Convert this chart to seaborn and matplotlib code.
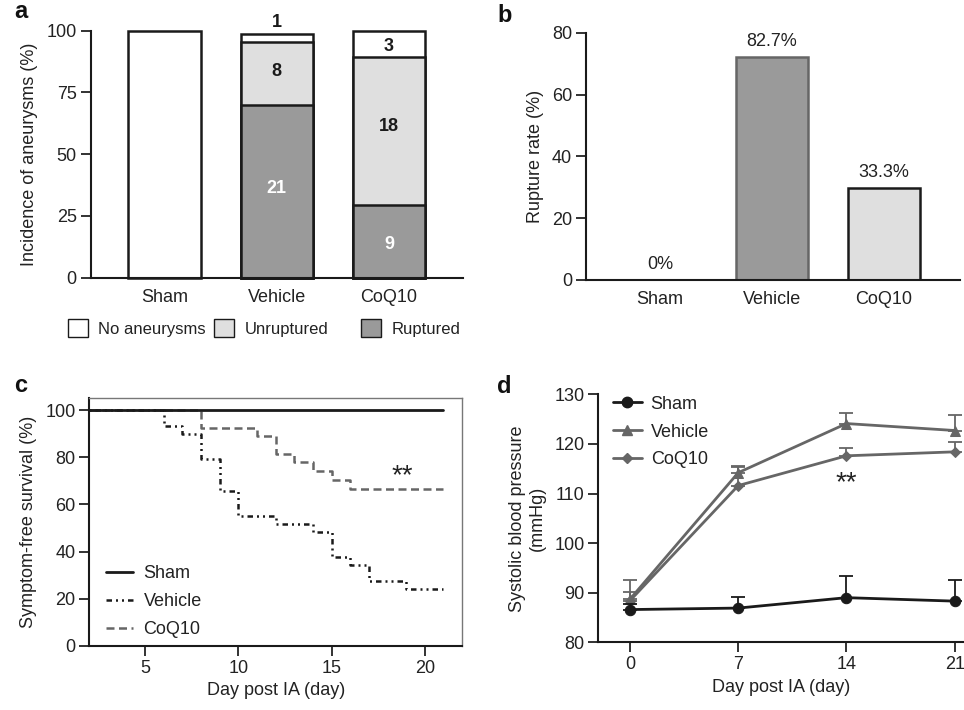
import numpy as np
import pandas as pd
import matplotlib
matplotlib.use("Agg")
import matplotlib.pyplot as plt
from matplotlib.patches import Patch
from matplotlib.lines import Line2D
import seaborn as sns

sns.set_style("ticks")
plt.rcParams['font.family'] = ['Liberation Sans', 'DejaVu Sans']
plt.rcParams['font.size'] = 13
plt.rcParams['text.color'] = '#222222'
plt.rcParams['axes.labelcolor'] = '#222222'
plt.rcParams['xtick.color'] = '#222222'
plt.rcParams['ytick.color'] = '#222222'

# ---------------- data ----------------
groups = ["Sham", "Vehicle", "CoQ10"]
# panel a: stacked percentages
ruptured_pct = [0, 70.0, 29.5]
unruptured_pct = [0, 25.5, 60.0]
none_pct = [100, 3.0, 10.5]
ruptured_n = [None, "21", "9"]
unruptured_n = [None, "8", "18"]
none_n = [None, "1", "3"]

# panel b
rupture_rate = [0, 72.3, 29.7]
rupture_labels = ["0%", "82.7%", "33.3%"]

# panel c: Kaplan-Meier steps
veh_days = [0, 6, 7, 8, 9, 10, 12, 14, 15, 16, 17, 19, 21]
veh_surv = [100, 93.1, 89.7, 79.3, 65.5, 55.2, 51.7, 48.3, 37.9, 34.5, 27.6, 24.1, 24.1]
coq_days = [0, 8, 11, 12, 13, 14, 15, 16, 21]
coq_surv = [100, 92.6, 88.9, 81.5, 77.8, 74.1, 70.4, 66.7, 66.7]
sham_days = [0, 21]
sham_surv = [100, 100]

# panel d: systolic BP
bp_days = [0, 7, 14, 21]
sham_bp = [86.6, 86.9, 89.0, 88.3]
sham_err = [1.2, 2.2, 4.4, 4.3]
veh_bp = [88.7, 114.2, 124.1, 122.7]
veh_err = [3.9, 1.4, 2.1, 3.2]
coq_bp = [88.4, 111.6, 117.6, 118.4]
coq_err = [1.8, 3.8, 1.5, 1.9]

C_RUP = "#9a9a9a"
C_UNR = "#dfdfdf"
C_NONE = "#ffffff"
C_DARK = "#1a1a1a"
C_GRAY = "#666666"

fig = plt.figure(figsize=(9.64, 7.10), dpi=100)

def px_rect(l, r, t, b):
    W, H = 964, 710
    return [l / W, (H - b) / H, (r - l) / W, (b - t) / H]

ax_a = fig.add_axes(px_rect(90.7, 463, 30.7, 277.7))
ax_b = fig.add_axes(px_rect(586, 960, 32.7, 280))
ax_c = fig.add_axes(px_rect(89.3, 462, 398.3, 646))
ax_d = fig.add_axes(px_rect(598.3, 964, 394.3, 642.3))

def style_axis(ax):
    for s in ["left", "bottom"]:
        ax.spines[s].set_linewidth(1.5)
        ax.spines[s].set_color(C_DARK)
    ax.tick_params(axis="both", direction="out", length=7, width=1.3,
                   labelsize=13, pad=3)

# ---------------- panel a ----------------
df_a = pd.DataFrame({
    "group": groups,
    "total": [r + u + n for r, u, n in zip(ruptured_pct, unruptured_pct, none_pct)],
    "rup_unr": [r + u for r, u in zip(ruptured_pct, unruptured_pct)],
    "rup": ruptured_pct,
})
bar_kw = dict(width=0.645, edgecolor=C_DARK, linewidth=1.8, ax=ax_a, clip_on=False)
sns.barplot(data=df_a, x="group", y="total", color=C_NONE, saturation=1, **bar_kw)
sns.barplot(data=df_a, x="group", y="rup_unr", color=C_UNR, saturation=1, **bar_kw)
sns.barplot(data=df_a, x="group", y="rup", color=C_RUP, saturation=1, **bar_kw)
for p in ax_a.patches:
    if p.get_height() == 0:
        p.set_visible(False)
rup_dy = [0, 1.2, -1.25]
unr_dy = [0, 0.7, 1.6]
for i in range(3):
    r, u, n = ruptured_pct[i], unruptured_pct[i], none_pct[i]
    if ruptured_n[i]:
        ax_a.text(i, r / 2 + rup_dy[i], ruptured_n[i], ha="center", va="center",
                  color="white", fontweight="bold", fontsize=13)
    if unruptured_n[i]:
        ax_a.text(i, r + u / 2 + unr_dy[i], unruptured_n[i], ha="center", va="center",
                  color=C_DARK, fontweight="bold", fontsize=13)
    if none_n[i]:
        y = r + u + n + 5 if n < 5 else r + u + n / 2 - 1.2
        ax_a.text(i, y, none_n[i], ha="center", va="center",
                  color=C_DARK, fontweight="bold", fontsize=13, clip_on=False)
ax_a.set_ylim(0, 100)
ax_a.set_xlim(-0.659, 2.66)
ax_a.set_yticks([0, 25, 50, 75, 100])
ax_a.set_xlabel("")
ax_a.set_ylabel("Incidence of aneurysms (%)", fontsize=13, labelpad=6)
sns.despine(ax=ax_a)
style_axis(ax_a)
ax_a.tick_params(axis="x", length=0, pad=8)

# panel a legend (three separate entries)
leg_items = [("No aneurysms", C_NONE, 72), ("Unruptured", C_UNR, 218), ("Ruptured", C_RUP, 365)]
for lab, col, xpx in leg_items:
    fig.legend(handles=[Patch(facecolor=col, edgecolor=C_DARK, linewidth=1.0, label=lab)],
               loc="center left", bbox_to_anchor=(xpx / 964 - 0.0045, 1 - 328 / 710),
               frameon=False, fontsize=12, handlelength=1.25, handleheight=1.25,
               handletextpad=0.6, borderpad=0, borderaxespad=0)

# ---------------- panel b ----------------
df_b = pd.DataFrame({"group": groups, "rate": rupture_rate})
sns.barplot(data=df_b, x="group", y="rate", hue="group",
            palette={"Sham": C_NONE, "Vehicle": C_RUP, "CoQ10": C_UNR},
            saturation=1, width=0.645, legend=False, ax=ax_b, linewidth=1.8)
for p, g in zip(ax_b.patches, groups):
    p.set_edgecolor(C_GRAY if g == "Vehicle" else C_DARK)
    if p.get_height() == 0:
        p.set_visible(False)
for i, (h, lab) in enumerate(zip(rupture_rate, rupture_labels)):
    ax_b.annotate(lab, (i, h), xytext=(0, 5), textcoords="offset points",
                  ha="center", va="bottom", fontsize=13)
ax_b.set_ylim(0, 80)
ax_b.set_xlim(-0.66, 2.68)
ax_b.set_yticks([0, 20, 40, 60, 80])
ax_b.set_xlabel("")
ax_b.set_ylabel("Rupture rate (%)", fontsize=13, labelpad=6)
sns.despine(ax=ax_b)
style_axis(ax_b)
ax_b.tick_params(axis="x", length=0, pad=8)

# ---------------- panel c ----------------
VEH_LS = (0, (2.2, 1.6, 0.8, 1.6, 0.8, 1.6))
COQ_LS = (0, (3.2, 1.8))
df_c = pd.concat([
    pd.DataFrame({"day": sham_days, "surv": sham_surv, "group": "Sham"}),
    pd.DataFrame({"day": veh_days, "surv": veh_surv, "group": "Vehicle"}),
    pd.DataFrame({"day": coq_days, "surv": coq_surv, "group": "CoQ10"}),
])
sns.lineplot(data=df_c[df_c.group == "CoQ10"], x="day", y="surv", color=C_GRAY,
             drawstyle="steps-post", estimator=None, lw=1.8,
             linestyle=COQ_LS, ax=ax_c, legend=False)
sns.lineplot(data=df_c[df_c.group == "Vehicle"], x="day", y="surv", color=C_DARK,
             drawstyle="steps-post", estimator=None, lw=1.8,
             linestyle=VEH_LS, ax=ax_c, legend=False)
sns.lineplot(data=df_c[df_c.group == "Sham"], x="day", y="surv", color=C_DARK,
             estimator=None, lw=2.0, ax=ax_c, legend=False)
ax_c.set_xlim(2, 22)
ax_c.set_ylim(0, 105)
ax_c.set_xticks([5, 10, 15, 20])
ax_c.set_yticks([0, 20, 40, 60, 80, 100])
ax_c.set_xlabel("Day post IA (day)", fontsize=13)
ax_c.set_ylabel("Symptom-free survival (%)", fontsize=13, labelpad=6)
style_axis(ax_c)
for s in ["top", "right"]:
    ax_c.spines[s].set_color("#777777")
    ax_c.spines[s].set_linewidth(1.0)
ax_c.text(18.8, 72, "**", ha="center", va="center", fontsize=20)
ax_c.legend(handles=[
    Line2D([], [], color=C_DARK, lw=2.0, label="Sham"),
    Line2D([], [], color=C_DARK, lw=1.8, linestyle=VEH_LS, label="Vehicle"),
    Line2D([], [], color=C_GRAY, lw=1.8, linestyle=COQ_LS, label="CoQ10")],
    loc="lower left", bbox_to_anchor=(0.0, -0.035), frameon=False, fontsize=13,
    handlelength=1.5, handletextpad=0.6, labelspacing=0.62)

# ---------------- panel d ----------------
df_d = pd.concat([
    pd.DataFrame({"day": bp_days, "bp": sham_bp, "group": "Sham"}),
    pd.DataFrame({"day": bp_days, "bp": veh_bp, "group": "Vehicle"}),
    pd.DataFrame({"day": bp_days, "bp": coq_bp, "group": "CoQ10"}),
])
for g, vals, errs, col, mk, ms in [("Vehicle", veh_bp, veh_err, C_GRAY, "^", 7),
                                   ("CoQ10", coq_bp, coq_err, C_GRAY, "D", 5.5),
                                   ("Sham", sham_bp, sham_err, C_DARK, "o", 7.5)]:
    ax_d.errorbar(bp_days, vals, yerr=[np.zeros(len(errs)), errs], fmt="none",
                  ecolor=col, elinewidth=1.3, capsize=5, capthick=1.3, clip_on=False)
    sns.lineplot(data=df_d[df_d.group == g], x="day", y="bp", color=col, marker=mk,
                 markersize=ms, markeredgecolor=col, lw=2.0, estimator=None,
                 ax=ax_d, legend=False, clip_on=False)
ax_d.set_xlim(-2.05, 21.6)
ax_d.set_ylim(80, 130)
ax_d.set_xticks([0, 7, 14, 21])
ax_d.set_yticks([80, 90, 100, 110, 120, 130])
ax_d.set_xlabel("Day post IA (day)", fontsize=13)
ax_d.set_ylabel("Systolic blood pressure\n(mmHg)", fontsize=13, labelpad=6)
sns.despine(ax=ax_d)
style_axis(ax_d)
ax_d.text(14, 112, "**", ha="center", va="center", fontsize=20)
ax_d.legend(handles=[
    Line2D([], [], color=C_DARK, lw=2.0, marker="o", markersize=7.5, label="Sham"),
    Line2D([], [], color=C_GRAY, lw=2.0, marker="^", markersize=7, label="Vehicle"),
    Line2D([], [], color=C_GRAY, lw=2.0, marker="D", markersize=5.5, label="CoQ10")],
    loc="upper left", bbox_to_anchor=(-0.005, 1.06), frameon=False, fontsize=13,
    handlelength=1.6, handletextpad=0.5, labelspacing=0.6)

# panel letters
for lab, xpx, ypx in [("a", 14, 12), ("b", 497, 15), ("c", 14, 385), ("d", 497, 386)]:
    fig.text(xpx / 964, 1 - ypx / 710, lab, fontsize=17, fontweight="bold",
             ha="left", va="center", color="#111111")

fig.savefig("out.png", dpi=100)
